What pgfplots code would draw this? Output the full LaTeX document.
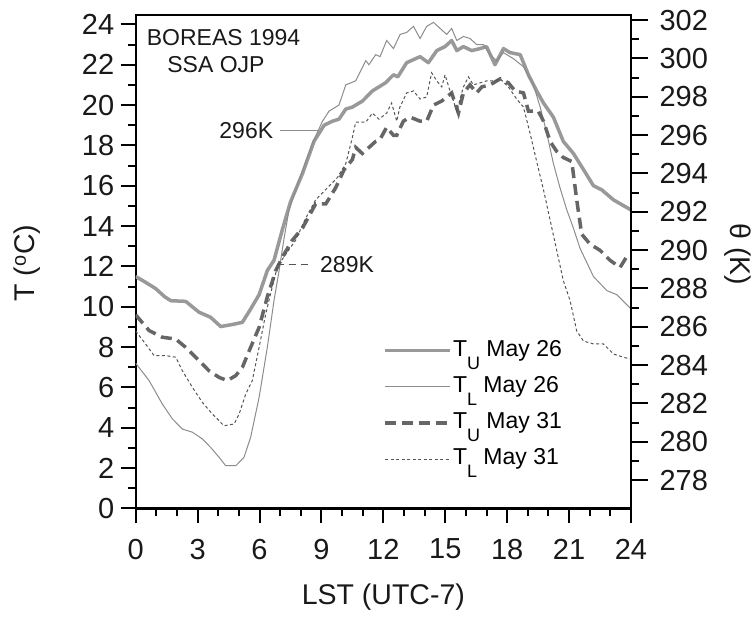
\documentclass[border=0pt]{standalone}
\usepackage{fontspec}
\setmainfont{Liberation Sans}
\usepackage{pgfplots}
\pgfplotsset{compat=1.18}
\definecolor{cUa}{HTML}{999999}
\definecolor{cLa}{HTML}{8C8C8C}
\definecolor{cUb}{HTML}{666666}
\definecolor{cLb}{HTML}{555555}
\newcommand{\sub}[1]{\raisebox{-13pt}{\fontsize{18}{18}\selectfont #1}}
\begin{document}
\begin{tikzpicture}
\useasboundingbox (-135.7pt,-108.5pt) rectangle (620.3pt,508.5pt);
\begin{axis}[
  at={(0pt,0pt)}, anchor=south west,
  scale only axis, width=495.3pt, height=493.8pt,
  xmin=0, xmax=24, ymin=0, ymax=24.48,
  xtick={0,3,...,24}, minor x tick num=2,
  ytick={0,2,...,24}, minor y tick num=1,
  xtick pos=bottom, ytick pos=left, tick align=outside,
  major tick length=15pt, minor tick length=8pt,
  every major tick/.append style={line width=2pt, black},
  every minor tick/.append style={line width=2pt, black},
  axis line style={line width=2.2pt, black},
  /pgf/number format/assume math mode=true,
  tick label style={font=\fontsize{29}{32}\selectfont, black!90},
  xticklabel style={yshift=-12pt},
  yticklabel style={xshift=-3pt},
  xlabel={LST (UTC-7)},
  xlabel style={at={(axis description cs:0.5,-0.195)}, anchor=base},
  ylabel={T (\textsuperscript{o}C)},
  ylabel style={at={(axis description cs:-0.2185,0.497)}, anchor=center},
  label style={font=\fontsize{28.5}{32}\selectfont, black!90},
  legend style={draw=none, fill=none, at={(axis cs:12.0,8.45)}, anchor=north west,
    font=\fontsize{23}{23}\selectfont, inner sep=0pt, row sep=11.2pt,
    nodes={inner sep=1pt, text height=17pt, text depth=6pt}},
  legend cell align=left,
  legend image code/.code={\draw[#1] (0pt,0pt) -- (65pt,0pt);},
]
\addplot[cUa, line width=3.5pt, line join=round] coordinates {
(0,11.5) (0.5,11.2) (0.97,10.9) (1.4,10.5) (1.7,10.3) (2.42,10.27) (3.07,9.73) (3.63,9.48) (4.12,9.02) (4.68,9.12) (5.17,9.23) (5.57,9.89) (5.98,10.6) (6.38,11.8) (6.7,12.3) (7.1,13.8) (7.5,15.2) (8.08,16.6) (8.64,18.2) (9.13,19.0) (9.53,19.2) (9.85,19.3) (10.18,19.8) (10.5,19.9) (10.99,20.2) (11.47,20.7) (12.1,21.1) (12.49,21.5) (12.7,21.4) (13.13,22.1) (13.78,22.4) (14.18,22.1) (14.59,22.7) (14.99,22.9) (15.31,23.2) (15.56,22.7) (15.88,22.9) (16.28,22.7) (16.69,22.8) (17.0,22.9) (17.41,22.0) (17.82,22.8) (18.14,22.6) (18.63,22.5) (19.03,21.5) (19.43,20.7) (19.76,20.1) (20.24,19.4) (20.72,18.2) (21.21,17.6) (21.7,16.8) (22.18,16.0) (22.58,15.8) (23.15,15.3) (24,14.8)
};
\addlegendentry{T\sub{U} May 26}
\addplot[cLa, line width=1pt] coordinates {
(0,7.2) (0.65,6.34) (1.29,5.18) (1.78,4.44) (2.26,3.94) (2.75,3.78) (3.23,3.45) (3.63,3.03) (4.04,2.54) (4.36,2.12) (4.85,2.12) (5.25,2.54) (5.57,3.53) (5.98,5.51) (6.38,8.0) (6.7,10.3) (6.95,11.8) (7.19,13.4) (7.43,14.8) (7.92,16.3) (8.56,18.1) (9.05,19.2) (9.37,19.7) (9.85,20.0) (10.18,21.0) (10.66,21.2) (11.15,22.2) (11.3,22.0) (11.63,22.5) (11.84,22.4) (12.16,23.2) (12.49,22.8) (12.81,23.5) (13.13,23.6) (13.46,23.9) (13.78,23.3) (14.1,23.9) (14.43,24.1) (14.75,23.8) (15.07,23.5) (15.31,23.8) (15.56,23.2) (15.88,23.4) (16.2,23.3) (16.52,23.0) (16.85,23.0) (17.17,22.5) (17.49,22.2) (17.82,22.6) (18.3,22.3) (18.79,21.9) (19.27,21.0) (19.6,19.9) (19.92,18.6) (20.24,17.1) (20.56,15.9) (20.89,14.8) (21.21,13.9) (21.53,12.9) (22.18,11.5) (22.83,10.8) (23.31,10.6) (24,9.9)
};
\addlegendentry{T\sub{L} May 26}
\addplot[cUb, line width=3.5pt, dash pattern=on 11pt off 6pt] coordinates {
(0,9.6) (0.65,8.82) (1.29,8.49) (1.94,8.40) (2.42,7.99) (3.07,7.33) (3.55,6.83) (4.04,6.5) (4.44,6.34) (4.85,6.59) (5.17,7.0) (5.57,7.99) (5.98,8.98) (6.38,10.5) (6.79,11.8) (7.1,12.45) (7.59,13.3) (8.08,13.9) (8.72,15.1) (9.21,15.1) (9.69,15.9) (10.1,16.8) (10.5,17.3) (10.66,17.9) (10.98,17.6) (11.63,18.2) (11.84,18.3) (12.16,18.9) (12.49,18.5) (12.65,18.5) (12.97,19.2) (13.3,19.4) (13.78,19.2) (14.1,19.2) (14.43,20.0) (14.83,20.2) (15.07,20.4) (15.31,20.6) (15.64,19.6) (15.88,20.6) (16.2,21.0) (16.52,20.6) (16.77,20.9) (17.17,21.0) (17.66,21.3) (18.06,21.1) (18.38,20.7) (18.79,20.6) (19.03,19.7) (19.51,19.7) (19.76,19.2) (20.08,18.2) (20.4,17.7) (20.72,17.4) (21.13,17.2) (21.37,15.3) (21.61,13.6) (22.02,13.1) (22.5,12.8) (22.99,12.3) (23.47,11.95) (23.8,12.5) (24,12.6)
};
\addlegendentry{T\sub{U} May 31}
\addplot[cLb, line width=1pt, dash pattern=on 3pt off 2.5pt] coordinates {
(0,8.8) (0.48,8.15) (0.89,7.58) (1.45,7.58) (1.94,7.5) (2.26,6.83) (2.75,6.0) (3.23,5.26) (3.72,4.68) (4.28,4.1) (4.77,4.19) (5.01,4.68) (5.33,5.67) (5.65,6.34) (5.98,7.99) (6.3,9.64) (6.62,11.0) (6.87,12.0) (7.27,12.6) (7.75,13.3) (8.24,14.4) (8.72,15.3) (9.29,15.9) (9.77,16.4) (10.18,17.1) (10.5,18.4) (10.66,19.15) (11.15,19.15) (11.47,19.6) (11.79,19.3) (12.16,19.6) (12.4,20.1) (12.65,19.2) (12.8,19.9) (13.13,20.6) (13.46,20.7) (13.78,20.3) (14.1,20.4) (14.34,21.6) (14.59,21.2) (14.83,20.9) (14.99,21.5) (15.23,20.7) (15.56,19.7) (15.88,20.9) (16.12,21.4) (16.36,21.0) (16.69,21.1) (17.01,21.2) (17.41,21.2) (17.66,21.3) (18.06,20.9) (18.46,20.3) (18.79,19.9) (19.11,18.6) (19.43,17.2) (19.76,15.8) (20.08,14.3) (20.4,12.8) (20.72,11.3) (21.05,10.3) (21.37,8.8) (21.7,8.3) (22.18,8.16) (22.66,8.16) (23.15,7.66) (23.63,7.5) (24,7.4)
};
\addlegendentry{T\sub{L} May 31}
\draw[cLa, line width=1pt] (axis cs:6.99,18.73) -- (axis cs:8.85,18.73);
\node[anchor=base east, inner sep=0pt, font=\fontsize{23}{23}\selectfont, black!90] at (axis cs:6.67,18.32) {296K};
\draw[cLb, line width=1pt, dash pattern=on 7pt off 5pt] (axis cs:6.83,12.12) -- (axis cs:8.53,12.12);
\node[anchor=base west, inner sep=0pt, font=\fontsize{23}{23}\selectfont, black!90] at (axis cs:8.93,11.71) {289K};
\node[anchor=base west, inner sep=0pt, font=\fontsize{23}{23}\selectfont, black!90] at (axis cs:0.53,22.94) {BOREAS 1994};
\node[anchor=base, inner sep=0pt, font=\fontsize{23}{23}\selectfont, black!90] at (axis cs:3.89,21.63) {SSA OJP};
\end{axis}
\begin{axis}[
  at={(0pt,0pt)}, anchor=south west,
  scale only axis, width=495.3pt, height=493.8pt,
  xmin=0, xmax=24, ymin=276.52, ymax=302.28,
  axis x line=none, axis y line*=right,
  ytick={278,280,...,302}, minor y tick num=1,
  tick align=outside,
  major tick length=17pt, minor tick length=8pt,
  every major tick/.append style={line width=2pt, black},
  every minor tick/.append style={line width=2pt, black},
  axis line style={line width=2.2pt, black, -},
  /pgf/number format/assume math mode=true,
  tick label style={font=\fontsize{29}{32}\selectfont, black!90},
  yticklabel style={xshift=8pt},
  ylabel={θ (K)},
  ylabel style={at={(axis description cs:1.215,0.515)}, anchor=center, rotate=180, font=\fontsize{28.5}{32}\selectfont, black!90},
]
\end{axis}
\end{tikzpicture}
\end{document}
